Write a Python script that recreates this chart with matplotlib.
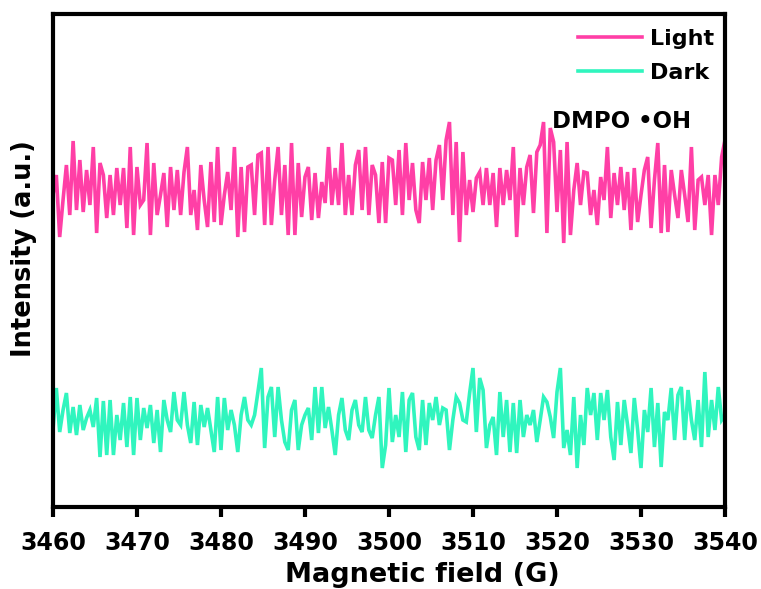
import numpy as np
import matplotlib
matplotlib.use("Agg")
import matplotlib.pyplot as plt

plt.rcParams['font.family'] = ['DejaVu Sans']
plt.rcParams['font.weight'] = 'bold'

# EPR spectra (DMPO spin trap), signal relative to each trace's baseline
light = [
    -5, 15, -47, -10, 25, -25, 49, -20, 30, -22, 20, -15, 43, -43, 27, 15, -28, 15, -25, 22,
    -15, 22, -38, 43, -45, 23, -15, -10, 47, -45, 27, -25, -5, 17, -37, 23, -20, 20, -25, 18,
    43, -25, 0, -40, 25, -10, -37, 28, -32, 43, -35, -5, 18, -20, 43, -47, 23, -42, 23, 25,
    -25, 35, 37, -35, 43, -35, 10, 43, -25, 25, -45, 47, -45, 27, -27, 13, 23, -30, 17, -28,
    8, -13, 43, -15, 22, -15, 47, -25, 15, -25, 25, 40, -20, 43, -25, 25, 15, -33, 28, -33,
    32, 30, -15, 40, -25, 47, -10, 27, -20, -33, 28, -10, 32, -20, 30, 45, -10, 50, 68, -25,
    48, -52, 38, -25, 10, -22, 12, 18, -15, 22, -15, 17, -37, 22, -15, 20, -10, 43, -47, 22,
    -15, 23, 35, -23, 38, 45, 68, -43, 62, 48, -22, 40, -53, 48, -45, 0, 27, -15, 18, 17,
    -25, 0, -35, 13, -10, 43, -28, 17, -15, 23, -20, 18, -40, 22, -32, -5, 20, 33, -38, 10,
    47, -43, 25, -42, 20, -5, -28, 20, -5, -32, 43, -40, 10, 13, -15, 15, -45, 15, -15, 33,
    50,
]

dark = [
    -12, 30, -14, 8, 25, -15, 11, -17, 13, -12, 0, 8, -9, 20, -39, 17, -37, 18, -37, 3,
    -22, 15, -29, 21, -37, 20, -22, 10, -10, 13, -25, 8, -34, 18, -2, -14, 26, -2, -7, 26,
    -7, -25, 16, -27, 13, -9, 10, -12, -34, 21, -32, 20, -12, 8, -7, -34, 3, 21, -2, -7,
    3, 26, 50, -30, 21, 31, -19, 31, -2, -24, -32, 8, 18, -32, -7, 3, 10, -22, 31, -15,
    31, -10, 11, -12, -37, 3, 20, -12, -22, 8, 18, -7, -14, 21, -12, -20, 3, 21, -50, -27,
    30, -24, 3, -19, 26, -34, 18, 25, -19, -32, 18, -27, 15, -2, 21, -7, 10, 8, -32, -2,
    21, 15, -2, -4, 25, 50, -14, 40, 28, -30, -7, 1, -37, 26, -19, 18, -34, 15, -35, 18,
    -19, 3, -7, 8, -24, -2, 21, 16, 1, -20, 26, 50, -30, -12, -37, 21, -50, 3, -27, 30,
    3, 25, -22, 25, -2, 28, -19, -42, 16, -27, 18, -7, -35, 20, -12, -50, 8, -14, 30, -29,
    15, -49, 6, -2, 30, -22, 23, 31, -22, 28, -2, -22, 18, -29, 46, -19, 18, -12, 31, -2,
    3,
]

field_start, field_end = 3460, 3540
xticks = [3460, 3470, 3480, 3490, 3500, 3510, 3520, 3530, 3540]

light_color = '#FF3FA6'
dark_color = '#30F5BE'

fig = plt.figure(figsize=(7.61, 5.89), dpi=100)
ax = fig.add_axes([0.0696, 0.1392, 0.8831, 0.8370])

field_light = np.linspace(field_start, field_end, len(light))
field_dark = np.linspace(field_start, field_end, len(dark))

# stacked display: each trace sits on its own baseline
light_base, dark_base = 317, 89
ax.plot(field_light, np.array(light) + light_base, color=light_color, lw=2.6,
        label='Light', solid_joinstyle='miter')
ax.plot(field_dark, np.array(dark) + dark_base, color=dark_color, lw=2.6,
        label='Dark', solid_joinstyle='miter')

ax.set_xlim(field_start, field_end)
ax.set_ylim(0, 493)
ax.set_xticks(xticks)
ax.set_yticks([])
ax.tick_params(axis='x', direction='out', length=7, width=3, labelsize=17, pad=10)
for lbl in ax.get_xticklabels():
    lbl.set_fontweight('bold')
for sp in ax.spines.values():
    sp.set_linewidth(3)

ax.set_xlabel('Magnetic field (G)', fontsize=19.5, fontweight='bold')
ax.xaxis.set_label_coords(0.549, -0.112)
ax.set_ylabel('Intensity (a.u.)', fontsize=18.5, fontweight='bold')
ax.yaxis.set_label_coords(-0.024, 0.525)

leg = ax.legend(loc='upper right', frameon=False, fontsize=16, handlelength=2.9,
                handletextpad=0.35, labelspacing=0.62, borderaxespad=0.0,
                bbox_to_anchor=(0.997, 0.988))
for t in leg.get_texts():
    t.set_fontweight('bold')
for h in leg.get_lines():
    h.set_linewidth(2.6)

ax.text(0.950, 0.782, 'DMPO \u2022OH', transform=ax.transAxes, ha='right', va='center',
        fontsize=16.5, fontweight='bold')

fig.savefig('out.png', dpi=100)
